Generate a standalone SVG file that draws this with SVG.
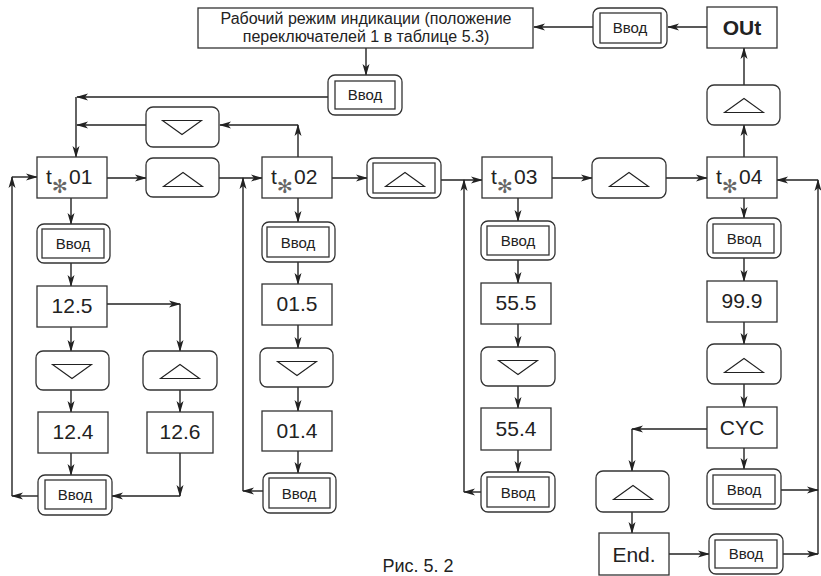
<svg xmlns="http://www.w3.org/2000/svg" width="821" height="576" viewBox="0 0 821 576">
<defs>
<marker id="ah" viewBox="0 0 12 8" refX="11" refY="4" markerWidth="12" markerHeight="8" markerUnits="userSpaceOnUse" orient="auto">
<path d="M0,0.5 L12,4 L0,7.5 L3,4 z" fill="#222"/>
</marker>
<symbol id="tri-up" viewBox="0 0 40 15" overflow="visible"><path d="M0.5,14.5 L20,0.5 L39.5,14.5 z" fill="none" stroke="#222" stroke-width="1.1"/></symbol>
<symbol id="tri-dn" viewBox="0 0 40 15" overflow="visible"><path d="M0.5,0.5 L20,14.5 L39.5,0.5 z" fill="none" stroke="#222" stroke-width="1.1"/></symbol>
</defs>
<style>
.box{fill:#fff;stroke:#333;stroke-width:1.3}
.rbox{fill:#fff;stroke:#333;stroke-width:1.3}
.inner{fill:none;stroke:#333;stroke-width:1.3}
.lbl{font-family:"Liberation Sans",Arial,sans-serif;font-size:21px;fill:#222;text-anchor:middle}
.vv{font-family:"Liberation Sans",Arial,sans-serif;font-size:15px;fill:#222;text-anchor:middle}
.t{font-family:"Liberation Sans",Arial,sans-serif;font-size:21px;fill:#222}
.star{font-family:"DejaVu Sans",sans-serif;font-size:19px;fill:#666}
.txt{font-family:"Liberation Sans",Arial,sans-serif;font-size:16px;fill:#222;text-anchor:middle}
.cap{font-family:"Liberation Sans",Arial,sans-serif;font-size:18px;fill:#222;text-anchor:middle}
.c{fill:none;stroke:#222;stroke-width:1.4}
.a{marker-end:url(#ah)}
</style>
<rect width="821" height="576" fill="#fff"/>

<g id="connectors">
<path class="c a" d="M707,27 H668"/>
<path class="c a" d="M593,27 H534"/>
<path class="c a" d="M366,48 V75"/>
<path class="c a" d="M328,97 H77"/>
<path class="c a" d="M76,97 V157"/>
<path class="c a" d="M298,157 V125"/>
<path class="c a" d="M298,125 H220"/>
<path class="c a" d="M146,125 H77"/>
<path class="c a" d="M107,178 H146"/>
<path class="c a" d="M219,178 H262"/>
<path class="c a" d="M263,491 H243"/>
<path class="c a" d="M243,491 V178"/>
<path class="c a" d="M38,496 H12"/>
<path class="c a" d="M12,496 V177"/>
<path class="c a" d="M12,177 H37"/>
<path class="c a" d="M332,178 H367"/>
<path class="c a" d="M441,180 H482"/>
<path class="c a" d="M481,492 H464"/>
<path class="c a" d="M464,492 V180"/>
<path class="c a" d="M552,178 H592"/>
<path class="c a" d="M666,178 H707"/>
<path class="c a" d="M744,157 V125"/>
<path class="c a" d="M744,85 V48"/>
<path class="c a" d="M818,554 V180"/>
<path class="c a" d="M818,180 H777"/>
<path class="c a" d="M781,490 H818"/>
<path class="c a" d="M783,554 H818"/>
<path class="c a" d="M669,554 H709"/>
<path class="c a" d="M707,429 H632"/>
<path class="c a" d="M632,429 V471"/>
<path class="c a" d="M632,512 V533"/>
<!-- col1 -->
<path class="c a" d="M71,197 V224"/>
<path class="c a" d="M71,263 V286"/>
<path class="c a" d="M71,327 V351"/>
<path class="c a" d="M71,390 V412"/>
<path class="c a" d="M71,453 V475"/>
<path class="c a" d="M107,304 H180"/>
<path class="c a" d="M180,304 V351"/>
<path class="c a" d="M180,390 V412"/>
<path class="c a" d="M180,453 V496"/>
<path class="c a" d="M180,496 H112"/>
<!-- col2 -->
<path class="c a" d="M298,197 V222"/>
<path class="c a" d="M298,262 V284"/>
<path class="c a" d="M298,325 V348"/>
<path class="c a" d="M298,387 V411"/>
<path class="c a" d="M298,451 V473"/>
<!-- col3 -->
<path class="c a" d="M518,198 V221"/>
<path class="c a" d="M518,260 V283"/>
<path class="c a" d="M518,324 V347"/>
<path class="c a" d="M518,386 V408"/>
<path class="c a" d="M518,450 V472"/>
<!-- col4 -->
<path class="c a" d="M744,198 V218"/>
<path class="c a" d="M744,258 V281"/>
<path class="c a" d="M744,322 V344"/>
<path class="c a" d="M744,384 V407"/>
<path class="c a" d="M744,448 V469"/>
</g>

<g id="mode">
<rect class="box" x="198" y="8" width="335" height="40"/>
<text class="txt" x="366" y="24">Рабочий режим индикации (положение</text>
<text class="txt" x="366" y="42">переключателей 1 в таблице 5.3)</text>
</g>
<g id="enter-top">
<rect class="rbox" x="593" y="8" width="74" height="40" rx="7"/>
<rect class="inner" x="600" y="13" width="61" height="30"/>
<text class="vv" x="630" y="33">Ввод</text>
</g>
<g id="out">
<rect class="box" x="707" y="7" width="70" height="41"/>
<text class="lbl" x="742" y="35" font-weight="bold">OUt</text>
</g>
<g id="up-out">
<rect class="rbox" x="707" y="85" width="73" height="40" rx="7"/>
<use href="#tri-up" x="724" y="98" width="40" height="15"/>
</g>
<g id="enter-2">
<rect class="rbox" x="328" y="75" width="74" height="40" rx="7"/>
<rect class="inner" x="335" y="81" width="60" height="28"/>
<text class="vv" x="365" y="100">Ввод</text>
</g>
<g id="down-top">
<rect class="rbox" x="146" y="107" width="73" height="40" rx="7"/>
<use href="#tri-dn" x="162" y="120" width="40" height="15"/>
</g>

<g id="t01">
<rect class="box" x="37" y="157" width="70" height="41"/>
<text class="t" y="184"><tspan x="46">t</tspan><tspan class="star" x="52" y="193">✻</tspan><tspan x="69" y="184">01</tspan></text>
</g>
<g id="up-1">
<rect class="rbox" x="146" y="158" width="73" height="39" rx="7"/>
<use href="#tri-up" x="163" y="172" width="40" height="15"/>
</g>
<g id="t02">
<rect class="box" x="262" y="157" width="70" height="41"/>
<text class="t" y="184"><tspan x="271">t</tspan><tspan class="star" x="277" y="193">✻</tspan><tspan x="294" y="184">02</tspan></text>
</g>
<g id="up-2dbl">
<rect class="rbox" x="367" y="158" width="74" height="40" rx="7"/>
<rect class="inner" x="373" y="163" width="62" height="30"/>
<use href="#tri-up" x="385" y="172" width="40" height="15"/>
</g>
<g id="t03">
<rect class="box" x="482" y="157" width="70" height="41"/>
<text class="t" y="184"><tspan x="491">t</tspan><tspan class="star" x="497" y="193">✻</tspan><tspan x="514" y="184">03</tspan></text>
</g>
<g id="up-3">
<rect class="rbox" x="592" y="158" width="74" height="40" rx="7"/>
<use href="#tri-up" x="609" y="172" width="40" height="15"/>
</g>
<g id="t04">
<rect class="box" x="707" y="157" width="70" height="41"/>
<text class="t" y="184"><tspan x="716">t</tspan><tspan class="star" x="722" y="193">✻</tspan><tspan x="739" y="184">04</tspan></text>
</g>

<!-- column 1 -->
<g id="enter-1a">
<rect class="rbox" x="37" y="224" width="73" height="39" rx="7"/>
<rect class="inner" x="42" y="229" width="62" height="29"/>
<text class="vv" x="73" y="249">Ввод</text>
</g>
<g id="v125">
<rect class="box" x="37" y="286" width="70" height="41"/>
<text class="lbl" x="72" y="313">12.5</text>
</g>
<g id="down-1">
<rect class="rbox" x="36" y="351" width="73" height="39" rx="7"/>
<use href="#tri-dn" x="52" y="364" width="40" height="15"/>
</g>
<g id="v124">
<rect class="box" x="38" y="412" width="70" height="41"/>
<text class="lbl" x="73" y="439">12.4</text>
</g>
<g id="enter-1b">
<rect class="rbox" x="38" y="475" width="74" height="40" rx="7"/>
<rect class="inner" x="45" y="480" width="61" height="29"/>
<text class="vv" x="75" y="500">Ввод</text>
</g>
<g id="up-1b">
<rect class="rbox" x="143" y="351" width="74" height="39" rx="7"/>
<use href="#tri-up" x="160" y="364" width="40" height="15"/>
</g>
<g id="v126">
<rect class="box" x="147" y="412" width="66" height="41"/>
<text class="lbl" x="180" y="439">12.6</text>
</g>

<!-- column 2 -->
<g id="enter-2a">
<rect class="rbox" x="262" y="222" width="73" height="40" rx="7"/>
<rect class="inner" x="267" y="227" width="62" height="30"/>
<text class="vv" x="298" y="248">Ввод</text>
</g>
<g id="v015">
<rect class="box" x="262" y="284" width="70" height="41"/>
<text class="lbl" x="297" y="311">01.5</text>
</g>
<g id="down-2">
<rect class="rbox" x="260" y="348" width="73" height="39" rx="7"/>
<use href="#tri-dn" x="277" y="361" width="40" height="15"/>
</g>
<g id="v014">
<rect class="box" x="262" y="411" width="70" height="40"/>
<text class="lbl" x="297" y="438">01.4</text>
</g>
<g id="enter-2b">
<rect class="rbox" x="263" y="473" width="73" height="40" rx="7"/>
<rect class="inner" x="269" y="478" width="61" height="30"/>
<text class="vv" x="299" y="499">Ввод</text>
</g>

<!-- column 3 -->
<g id="enter-3a">
<rect class="rbox" x="481" y="221" width="74" height="39" rx="7"/>
<rect class="inner" x="487" y="226" width="62" height="29"/>
<text class="vv" x="518" y="246">Ввод</text>
</g>
<g id="v555">
<rect class="box" x="481" y="283" width="70" height="41"/>
<text class="lbl" x="516" y="310">55.5</text>
</g>
<g id="down-3">
<rect class="rbox" x="481" y="347" width="74" height="39" rx="7"/>
<use href="#tri-dn" x="498" y="360" width="40" height="15"/>
</g>
<g id="v554">
<rect class="box" x="481" y="408" width="70" height="42"/>
<text class="lbl" x="516" y="436">55.4</text>
</g>
<g id="enter-3b">
<rect class="rbox" x="481" y="472" width="74" height="40" rx="7"/>
<rect class="inner" x="487" y="477" width="62" height="30"/>
<text class="vv" x="518" y="498">Ввод</text>
</g>

<!-- column 4 -->
<g id="enter-4a">
<rect class="rbox" x="707" y="218" width="74" height="40" rx="7"/>
<rect class="inner" x="713" y="224" width="61" height="29"/>
<text class="vv" x="744" y="244">Ввод</text>
</g>
<g id="v999">
<rect class="box" x="707" y="281" width="70" height="41"/>
<text class="lbl" x="742" y="308">99.9</text>
</g>
<g id="up-4">
<rect class="rbox" x="707" y="344" width="74" height="40" rx="7"/>
<use href="#tri-up" x="724" y="358" width="40" height="15"/>
</g>
<g id="cyc">
<rect class="box" x="707" y="407" width="70" height="41"/>
<text class="lbl" x="742" y="435">CYC</text>
</g>
<g id="enter-4b">
<rect class="rbox" x="707" y="469" width="74" height="40" rx="7"/>
<rect class="inner" x="713" y="475" width="62" height="29"/>
<text class="vv" x="744" y="495">Ввод</text>
</g>
<g id="up-5">
<rect class="rbox" x="596" y="471" width="73" height="41" rx="7"/>
<use href="#tri-up" x="613" y="485" width="40" height="15"/>
</g>
<g id="end">
<rect class="box" x="599" y="533" width="70" height="42"/>
<text class="lbl" x="634" y="562">End.</text>
</g>
<g id="enter-5">
<rect class="rbox" x="709" y="534" width="74" height="40" rx="7"/>
<rect class="inner" x="715" y="540" width="62" height="28"/>
<text class="vv" x="746" y="559">Ввод</text>
</g>

<text class="cap" x="418" y="572">Рис. 5. 2</text>
</svg>
